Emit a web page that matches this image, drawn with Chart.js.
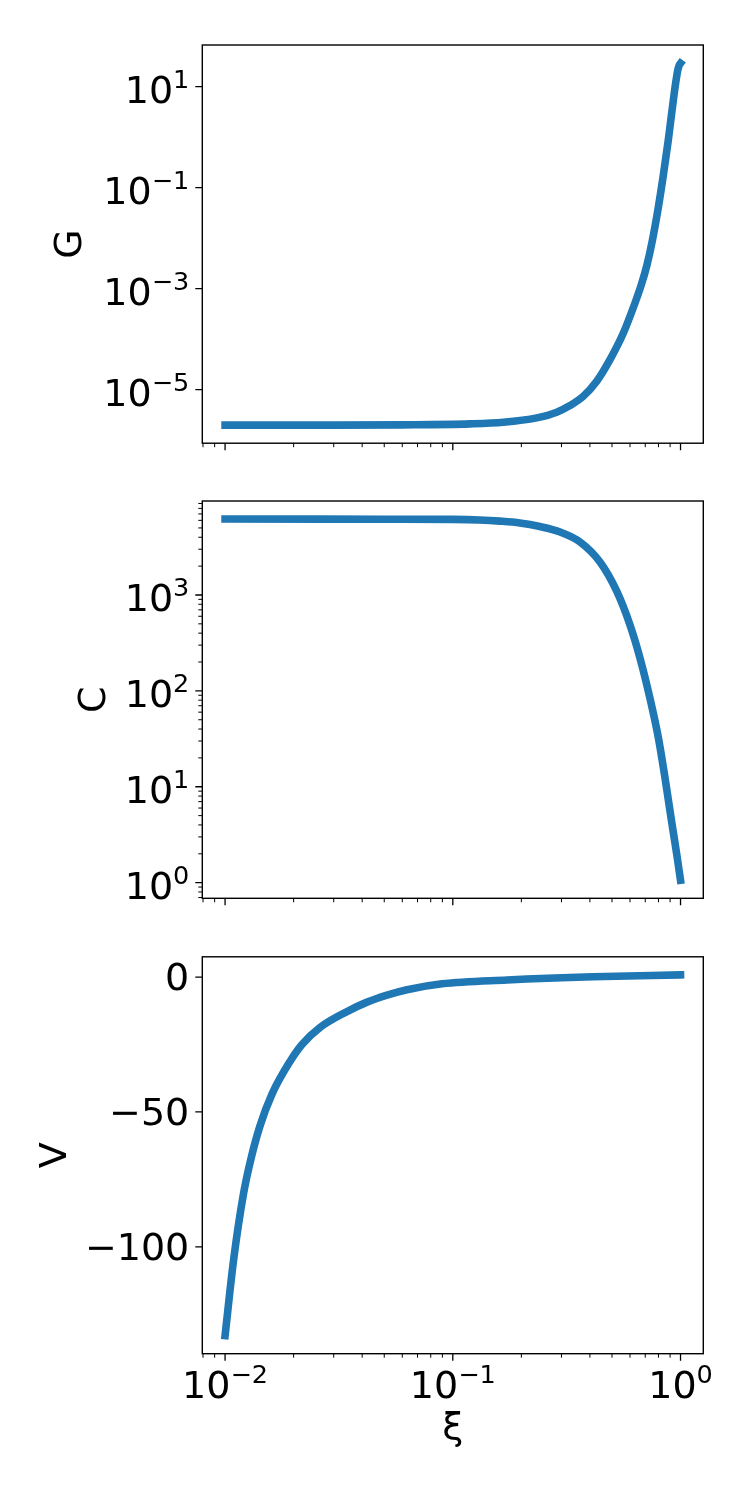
<!DOCTYPE html>
<html><head><meta charset="utf-8">
<script src="https://cdn.jsdelivr.net/npm/chart.js@4/dist/chart.umd.min.js"></script>
<style>
html,body{margin:0;padding:0;background:#fff;}
#wrap{position:relative;width:750px;height:1500px;background:#fff;}
canvas{position:absolute;left:0;}
</style></head><body>
<div id="wrap">
<canvas id="cG" width="750" height="472" style="top:0px;width:750px;height:472px"></canvas>
<canvas id="cC" width="750" height="456" style="top:472px;width:750px;height:456px"></canvas>
<canvas id="cV" width="750" height="572" style="top:928px;width:750px;height:572px"></canvas>
</div>
<script>
// ---- data ----
const xiG = [0.01, 0.03, 0.06, 0.119, 0.1667, 0.2336, 0.2859, 0.327, 0.3742, 0.4285, 0.49, 0.561, 0.631, 0.6707, 0.7127, 0.7518, 0.7982, 0.8395, 0.8839, 0.9205, 0.9506, 0.973, 0.9879, 1.0];
const gValues = [1.98e-6, 1.98e-6, 2.0e-6, 2.09e-6, 2.25e-6, 2.75e-6, 3.56e-6, 4.82e-6, 7.36e-6, 1.46e-5, 3.92e-5, 1.32e-4, 5.19e-4, 1.14e-3, 2.97e-3, 8.87e-3, 0.0398, 0.171, 0.883, 3.79, 11.3, 21.4, 26.9, 29.0];

const xiC = [0.01, 0.05, 0.1, 0.131, 0.161, 0.197, 0.241, 0.296, 0.362, 0.443, 0.524, 0.6, 0.664, 0.734, 0.8, 0.855, 0.914, 0.962, 1.0];
const cValues = [6194, 6166, 6138, 6053, 5888, 5638, 5180, 4537, 3573, 2208, 1101, 486, 219, 83.8, 32.1, 12.3, 4.33, 1.99, 1.06];

const xiV = [0.01, 0.01089, 0.01205, 0.01299, 0.01423, 0.01607, 0.01928, 0.02177, 0.02611, 0.03431, 0.04201, 0.0514, 0.06293, 0.08966, 0.173, 0.4128, 1.0];
const vValues = [-132.9, -105.1, -80.3, -67.4, -55.2, -43.4, -31.3, -25.0, -18.7, -12.8, -9.3, -6.7, -4.7, -2.5, -1.1, 0.1, 0.8];

const xTickValues = [0.01, 0.1, 1];
const xTickLabels = ['10\u207B\u00B2', '10\u207B\u00B9', '10\u2070'];
const gTickValues = [1e-5, 1e-3, 1e-1, 10];
const gTickLabels = ['10\u207B\u2075', '10\u207B\u00B3', '10\u207B\u00B9', '10\u00B9'];
const cTickValues = [1, 10, 100, 1000];
const cTickLabels = ['10\u2070', '10\u00B9', '10\u00B2', '10\u00B3'];
const vTickValues = [-100, -50, 0];
const vTickLabels = ['\u2212100', '\u221250', '0'];

const axisLabels = ['G', 'C', 'V', '\u03BE'];

// ---- helpers ----
const FAMILY = 'DejaVu Sans';
const FS = 38, FS_SUP = 25.5;
const FONT = {family: FAMILY, size: FS};
const LINE_COLOR = '#1f77b4';
const SUP_MAP = {'\u207B': '\u2212', '\u2070': '0', '\u00B9': '1', '\u00B2': '2', '\u00B3': '3', '\u2074': '4', '\u2075': '5', '\u2076': '6', '\u2077': '7', '\u2078': '8', '\u2079': '9'};

function splitPow(label) {
  let base = '', exp = '';
  for (const ch of label) {
    if (SUP_MAP[ch] !== undefined) exp += SUP_MAP[ch]; else base += ch;
  }
  return {base, exp};
}

function minorLogTicks(lo, hi) {
  const out = [];
  for (let e = Math.floor(Math.log10(lo)) - 1; e <= Math.ceil(Math.log10(hi)); e++) {
    for (let k = 2; k <= 9; k++) {
      const v = k * Math.pow(10, e);
      if (v >= lo && v <= hi) out.push(v);
    }
  }
  return out;
}

const mplTicks = {
  id: 'mplTicks',
  afterDraw(chart, args, o) {
    const {ctx, chartArea: a} = chart;
    const xs = chart.scales.x, ys = chart.scales.y;
    ctx.save();
    ctx.strokeStyle = '#000';
    const inX = p => p >= a.left - 0.6 && p <= a.right + 0.6;
    const inY = p => p >= a.top - 0.6 && p <= a.bottom + 0.6;
    const drawX = (vals, len, w) => {
      ctx.lineWidth = w; ctx.beginPath();
      vals.forEach(v => { const p = xs.getPixelForValue(v); if (inX(p)) { ctx.moveTo(p, a.bottom); ctx.lineTo(p, a.bottom + len); } });
      ctx.stroke();
    };
    const drawY = (vals, len, w) => {
      ctx.lineWidth = w; ctx.beginPath();
      vals.forEach(v => { const p = ys.getPixelForValue(v); if (inY(p)) { ctx.moveTo(a.left, p); ctx.lineTo(a.left - len, p); } });
      ctx.stroke();
    };
    drawX(o.xMajor || [], 7, 1.3);
    drawX(o.xMinor || [], 4, 1.0);
    drawY(o.yMajor || [], 7, 1.3);
    drawY(o.yMinor || [], 4, 1.0);
    ctx.lineWidth = 1.4;
    ctx.strokeRect(a.left, a.top, a.right - a.left, a.bottom - a.top);

    // power-of-ten tick labels, drawn like mathtext (base + raised exponent)
    ctx.fillStyle = '#000';
    ctx.textBaseline = 'alphabetic';
    const fBase = FS + 'px "' + FAMILY + '"', fSup = FS_SUP + 'px "' + FAMILY + '"';
    if (o.yPow) {
      ys.ticks.forEach(t => {
        const p = ys.getPixelForValue(t.value);
        const {base, exp} = splitPow(t.label);
        const xr = a.left - 13, yb = p + 16.4;
        ctx.textAlign = 'right';
        ctx.font = fSup; ctx.fillText(exp, xr, yb - 15);
        const we = ctx.measureText(exp).width;
        ctx.font = fBase; ctx.fillText(base, xr - we, yb);
      });
    }
    if (o.xPow) {
      xs.ticks.forEach(t => {
        const p = xs.getPixelForValue(t.value);
        const {base, exp} = splitPow(t.label);
        ctx.font = fBase; const wb = ctx.measureText(base).width;
        ctx.font = fSup; const we = ctx.measureText(exp).width;
        const x0 = p - (wb + we) / 2, yb = a.bottom + 44;
        ctx.textAlign = 'left';
        ctx.font = fBase; ctx.fillText(base, x0, yb);
        ctx.font = fSup; ctx.fillText(exp, x0 + wb, yb - 15);
      });
    }
    ctx.restore();
  }
};

const X_MIN = Math.pow(10, -2.1), X_MAX = Math.pow(10, 0.1);
const xMinor = minorLogTicks(X_MIN, X_MAX);

function makePanel(id, cfg) {
  const canvas = document.getElementById(id);
  return new Chart(canvas, {
    type: 'line',
    data: {
      datasets: [{
        data: cfg.xs.map((x, i) => ({x: x, y: cfg.ys[i]})),
        borderColor: LINE_COLOR,
        borderWidth: 7.6,
        pointRadius: 0,
        borderCapStyle: 'square',
        borderJoinStyle: 'round',
        cubicInterpolationMode: 'monotone',
        fill: false
      }]
    },
    options: {
      responsive: false,
      animation: false,
      devicePixelRatio: 1,
      events: [],
      layout: {padding: {left: 0, right: 46.7, top: cfg.top, bottom: 0}},
      plugins: {
        legend: {display: false},
        tooltip: {enabled: false},
        mplTicks: {xMajor: xTickValues, xMinor: xMinor, yMajor: cfg.yTicks, yMinor: cfg.yMinor,
                   xPow: !!cfg.xLabels, yPow: !!cfg.yPow}
      },
      scales: {
        x: {
          type: 'logarithmic', min: X_MIN, max: X_MAX,
          grid: {display: false, drawTicks: true, tickLength: 7},
          border: {display: false},
          ticks: {display: !!cfg.xLabels, autoSkip: false, maxRotation: 0, padding: 2, color: 'rgba(0,0,0,0)', font: FONT,
                  callback: (v, i) => xTickLabels[i]},
          afterBuildTicks: s => { s.ticks = xTickValues.map(v => ({value: v})); },
          afterFit: s => { s.height = cfg.xHeight; },
          title: cfg.xTitle ? {display: true, text: axisLabels[3], color: '#000', font: FONT, padding: {top: 0, bottom: 47.9}} : {display: false}
        },
        y: {
          type: cfg.yType, min: cfg.yMin, max: cfg.yMax,
          grid: {display: false, drawTicks: true, tickLength: 7},
          border: {display: false},
          ticks: {autoSkip: false, padding: 6, labelOffset: 3, color: cfg.yPow ? 'rgba(0,0,0,0)' : '#000', font: FONT,
                  callback: (v, i) => cfg.yLabels[i]},
          afterBuildTicks: s => { s.ticks = cfg.yTicks.map(v => ({value: v})); },
          afterFit: s => { s.width = 202.3; },
          title: {display: true, text: cfg.title, color: '#000', font: FONT, padding: {top: cfg.titlePad, bottom: 0}}
        }
      }
    },
    plugins: [mplTicks]
  });
}

makePanel('cG', {
  xs: xiG, ys: gValues, top: 45, xHeight: 472 - 443.7,
  yType: 'logarithmic', yMin: Math.pow(10, -6.062), yMax: Math.pow(10, 1.825), yPow: true,
  yTicks: gTickValues, yLabels: gTickLabels, yMinor: [], title: axisLabels[0], titlePad: 48.7
});
makePanel('cC', {
  xs: xiC, ys: cValues, top: 29, xHeight: 456 - 426.3,
  yType: 'logarithmic', yMin: Math.pow(10, -0.163), yMax: Math.pow(10, 3.98), yPow: true,
  yTicks: cTickValues, yLabels: cTickLabels, yMinor: minorLogTicks(Math.pow(10, -0.163), Math.pow(10, 3.98)),
  title: axisLabels[1], titlePad: 72.1
});
makePanel('cV', {
  xs: xiV, ys: vValues, top: 27, xHeight: 572 - 425.7, xLabels: true, xTitle: true,
  yType: 'linear', yMin: -139.6, yMax: 7.5,
  yTicks: vTickValues, yLabels: vTickLabels, yMinor: [], title: axisLabels[2], titlePad: 32.9
});
</script>
</body></html>
